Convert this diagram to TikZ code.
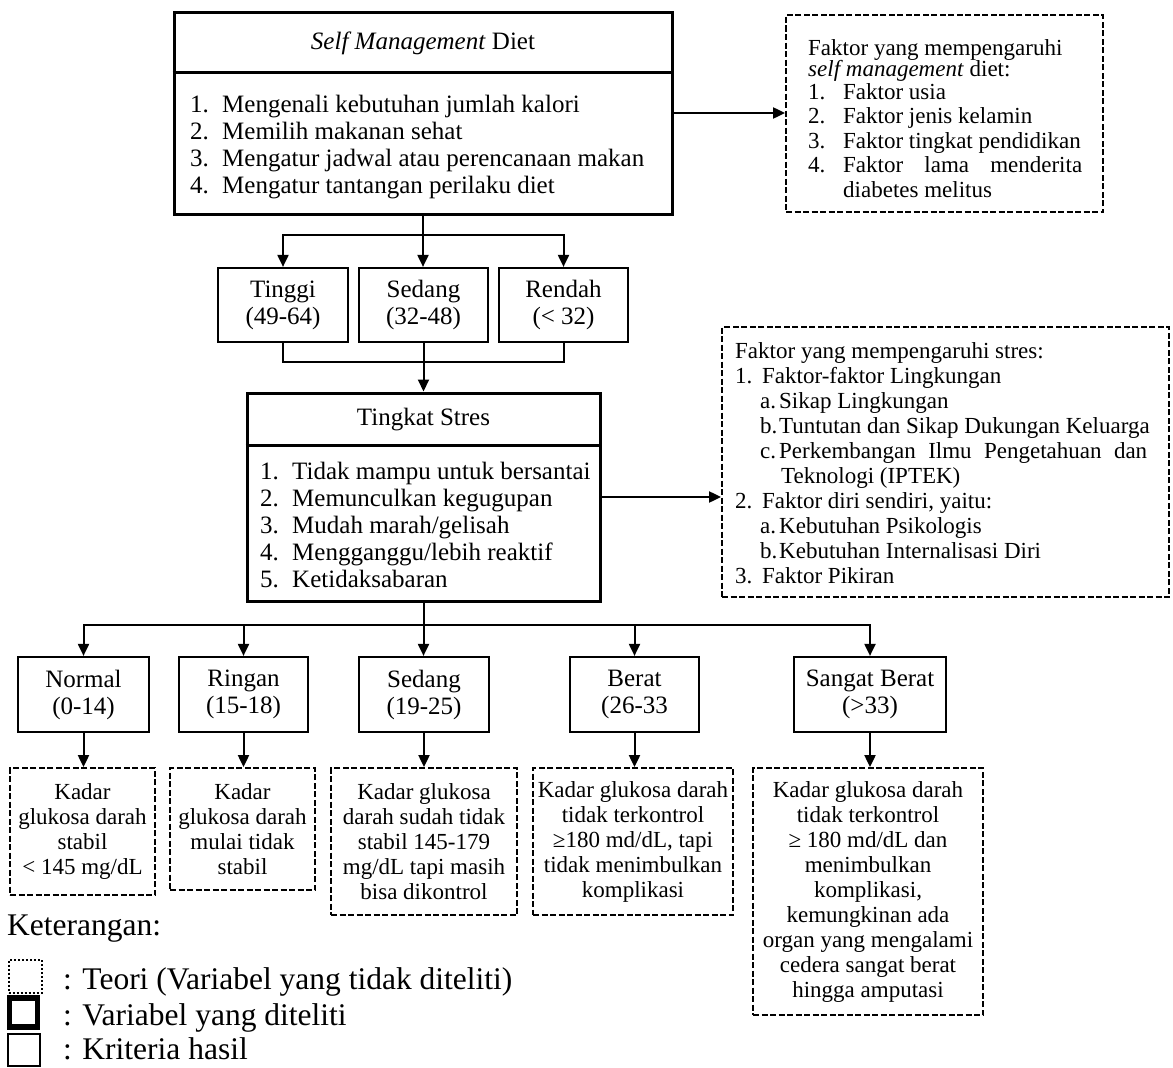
\documentclass[tikz,border=0pt]{standalone}
\usepackage{fontspec}
\setmainfont{Liberation Serif}
\usetikzlibrary{arrows.meta}
\newcommand\fA{\fontsize{25}{27}\selectfont}
\newcommand\fB{\fontsize{23}{25}\selectfont}
\newcommand\fL{\fontsize{31.5}{36}\selectfont}
\begin{document}
\begin{tikzpicture}[x=1pt,y=-1pt,
  varbox/.style={draw, line width=3pt, inner sep=0pt},
  critbox/.style={draw, line width=2.2pt, inner sep=0pt, align=center, font=\fA},
  theory/.style={draw, line width=1.8pt, dash pattern=on 6pt off 2.5pt, inner sep=0pt},
  resbox/.style={theory, align=center, font=\fB},
  conn/.style={line width=2pt},
  arr/.style={conn, -{Triangle[length=12pt,width=11pt]}},
  txtA/.style={anchor=base west, font=\fA, inner sep=0pt},
  txtB/.style={anchor=base west, font=\fB, inner sep=0pt},
  txtL/.style={anchor=base west, font=\fL, inner sep=0pt},
]
\useasboundingbox (0,0) rectangle (1173,1068);

% ---- Self Management Diet box
\node[varbox, minimum width=498pt, minimum height=202pt] (sm) at (423,113) {};
\draw[line width=3pt] (sm.west |- 0,72) -- (sm.east |- 0,72);
\node[font=\fA] (smt) at (423,43) {\textit{Self Management} Diet};
\node[txtA] (sm1) at (190,112) {\makebox[32pt][l]{1.}Mengenali kebutuhan jumlah kalori};
\node[txtA] (sm2) at (190,139) {\makebox[32pt][l]{2.}Memilih makanan sehat};
\node[txtA] (sm3) at (190,166) {\makebox[32pt][l]{3.}Mengatur jadwal atau perencanaan makan};
\node[txtA] (sm4) at (190,193) {\makebox[32pt][l]{4.}Mengatur tantangan perilaku diet};

% ---- factors of self management
\node[theory, minimum width=317pt, minimum height=197pt] (dk1) at (944.5,113.5) {};
\node[txtB] (dk1a) at (808,55) {Faktor yang mempengaruhi};
\node[txtB] (dk1b) at (808,76) {\textit{self management} diet:};
\node[txtB] (dk1c) at (808,99) {\makebox[35pt][l]{1.}Faktor usia};
\node[txtB] (dk1d) at (808,123) {\makebox[35pt][l]{2.}Faktor jenis kelamin};
\node[txtB] (dk1e) at (808,148) {\makebox[35pt][l]{3.}Faktor tingkat pendidikan};
\node[txtB] (dk1f) at (808,172) {\makebox[35pt][l]{4.}\hbox to 239pt{Faktor\hfill lama\hfill menderita}};
\node[txtB] (dk1g) at (843,197) {diabetes melitus};
\draw[arr] (sm.east) -- (sm.east -| dk1.west);

% ---- first criteria row
\node[critbox, minimum width=130pt, minimum height=74pt] (tinggi) at (283,305) {Tinggi\\(49-64)};
\node[critbox, minimum width=129pt, minimum height=74pt] (sedA) at (423.5,305) {Sedang\\(32-48)};
\node[critbox, minimum width=129pt, minimum height=74pt] (rendah) at (563.5,305) {Rendah\\(< 32)};
\path (sm.south) ++(0,19) coordinate (b1);
\draw[conn] (sm.south) -- (b1);
\draw[arr] (b1) -| (tinggi.north);
\draw[arr] (b1) -- (b1 |- sedA.north);
\draw[arr] (b1) -| (rendah.north);

% ---- Tingkat Stres box
\node[varbox, minimum width=353pt, minimum height=208pt] (ts) at (423.5,497) {};
\draw[line width=3pt] (ts.west |- 0,445) -- (ts.east |- 0,445);
\node[font=\fA] (tst) at (423.5,420) {Tingkat Stres};
\node[txtA] (ts1) at (260,479) {\makebox[32pt][l]{1.}Tidak mampu untuk bersantai};
\node[txtA] (ts2) at (260,506) {\makebox[32pt][l]{2.}Memunculkan kegugupan};
\node[txtA] (ts3) at (260,533) {\makebox[32pt][l]{3.}Mudah marah/gelisah};
\node[txtA] (ts4) at (260,560) {\makebox[32pt][l]{4.}Mengganggu/lebih reaktif};
\node[txtA] (ts5) at (260,587) {\makebox[32pt][l]{5.}Ketidaksabaran};

\path (ts.north) ++(0,-30) coordinate (b2);
\draw[conn] (tinggi.south) |- (b2) -| (rendah.south);
\draw[conn] (sedA.south) -- (sedA.south |- b2);
\draw[arr] (b2) -- (ts.north);

% ---- factors of stress
\node[theory, minimum width=447pt, minimum height=270pt] (dk2) at (945.5,462) {};
\node[txtB] (dk2a) at (735,358) {Faktor yang mempengaruhi stres:};
\node[txtB] (dk2b) at (735,383) {\makebox[27pt][l]{1.}Faktor-faktor Lingkungan};
\node[txtB] (dk2c) at (760,408) {\makebox[19pt][l]{a.}Sikap Lingkungan};
\node[txtB] (dk2d) at (760,433) {\makebox[19pt][l]{b.}Tuntutan dan Sikap Dukungan Keluarga};
\node[txtB] (dk2e) at (760,458) {\makebox[19pt][l]{c.}\hbox to 368pt{Perkembangan\hfill Ilmu\hfill Pengetahuan\hfill dan}};
\node[txtB] (dk2f) at (781,483) {Teknologi (IPTEK)};
\node[txtB] (dk2g) at (735,508) {\makebox[27pt][l]{2.}Faktor diri sendiri, yaitu:};
\node[txtB] (dk2h) at (760,533) {\makebox[19pt][l]{a.}Kebutuhan Psikologis};
\node[txtB] (dk2i) at (760,558) {\makebox[19pt][l]{b.}Kebutuhan Internalisasi Diri};
\node[txtB] (dk2j) at (735,583) {\makebox[27pt][l]{3.}Faktor Pikiran};
\draw[arr] (ts.east) -- (ts.east -| dk2.west);

% ---- stress levels
\node[critbox, minimum width=131pt, minimum height=75pt] (normal) at (83.5,694.5) {Normal\\(0-14)};
\node[critbox, minimum width=129pt, minimum height=75pt] (ringan) at (243.5,694.5) {Ringan\\(15-18)};
\node[critbox, minimum width=130pt, minimum height=75pt] (sedB) at (424,694.5) {Sedang\\(19-25)};
\node[critbox, minimum width=129pt, minimum height=75pt] (berat) at (634.5,694.5) {Berat\\(26-33};
\node[critbox, minimum width=152pt, minimum height=75pt] (sangat) at (870,694.5) {Sangat Berat\\(>33)};
\path (ts.south) ++(0,22) coordinate (b3);
\draw[conn] (ts.south) -- (b3);
\draw[arr] (b3) -| (normal.north);
\draw[arr] (b3) -| (ringan.north);
\draw[arr] (b3) -- (b3 |- sedB.north);
\draw[arr] (b3) -| (berat.north);
\draw[arr] (b3) -| (sangat.north);

% ---- results
\node[resbox, minimum width=145pt, minimum height=127pt] (rnormal) at (82.5,831.5) {Kadar\\glukosa darah\\stabil\\< 145 mg/dL};
\node[resbox, minimum width=145pt, minimum height=122pt] (rringan) at (242.5,829) {Kadar\\glukosa darah\\mulai tidak\\stabil};
\node[resbox, minimum width=186pt, minimum height=147pt] (rsedang) at (424,841.5) {Kadar glukosa\\darah sudah tidak\\stabil 145-179\\mg/dL tapi masih\\bisa dikontrol};
\node[resbox, minimum width=200pt, minimum height=147pt] (rberat) at (633,841.5) {Kadar glukosa darah\\tidak terkontrol\\≥180 md/dL, tapi\\tidak menimbulkan\\komplikasi};
\node[resbox, minimum width=230pt, minimum height=247pt] (rsangat) at (868,891.5) {Kadar glukosa darah\\tidak terkontrol\\≥ 180 md/dL dan\\menimbulkan\\komplikasi,\\kemungkinan ada\\organ yang mengalami\\cedera sangat berat\\hingga amputasi};
\draw[arr] (normal.south) -- (normal.south |- rnormal.north);
\draw[arr] (ringan.south) -- (ringan.south |- rringan.north);
\draw[arr] (sedB.south) -- (sedB.south |- rsedang.north);
\draw[arr] (berat.south) -- (berat.south |- rberat.north);
\draw[arr] (sangat.south) -- (sangat.south |- rsangat.north);

% ---- legend
\node[txtL] (ket) at (7,935) {Keterangan:};
\node[draw, dotted, line width=2pt, minimum width=33pt, minimum height=33pt, inner sep=0pt] (sym1) at (25,976) {};
\node[draw, line width=5.5pt, minimum width=28pt, minimum height=29pt, inner sep=0pt] (sym2) at (23.5,1012.5) {};
\node[draw, line width=1.5pt, minimum width=32pt, minimum height=32pt, inner sep=0pt] (sym3) at (24,1050) {};
\node[txtL] (lg1) at (63,989) {: Teori (Variabel yang tidak diteliti)};
\node[txtL] (lg2) at (63,1025) {: Variabel yang diteliti};
\node[txtL] (lg3) at (63,1059) {: Kriteria hasil};
\end{tikzpicture}
\end{document}
